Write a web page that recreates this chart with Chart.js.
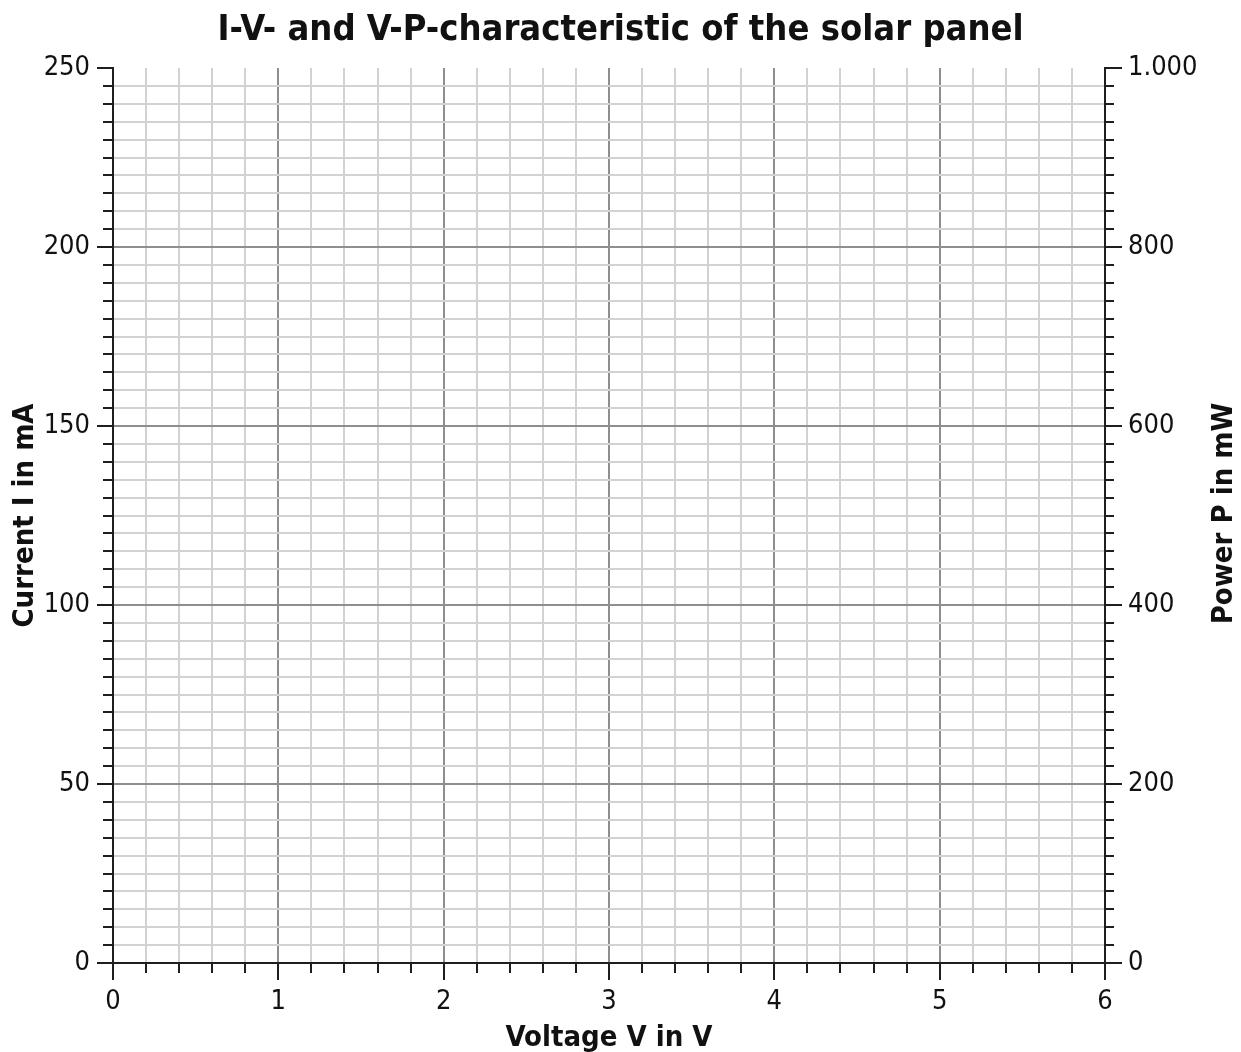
<!DOCTYPE html>
<html>
<head>
<meta charset="utf-8">
<title>I-V- and V-P-characteristic of the solar panel</title>
<script src="https://cdn.jsdelivr.net/npm/chart.js@4.4.1/dist/chart.umd.min.js"></script>
<style>
  html, body { margin: 0; padding: 0; background: #ffffff; overflow: hidden; }
  canvas { display: block; }
</style>
</head>
<body>
<canvas id="c" width="1241" height="1052"></canvas>
<script>
// ---- data (the reference chart is an empty measurement grid) ----
const voltage = [];          // V
const current = [];          // mA
const power = [];            // mW
const voltageTicks = [0, 1, 2, 3, 4, 5, 6];
const currentTicks = [0, 50, 100, 150, 200, 250];
const powerTicks = [0, 200, 400, 600, 800, 1000];
const powerTickLabels = ['0', '200', '400', '600', '800', '1.000'];
const voltageMinorStep = 0.2;
const currentMinorStep = 5;
const powerMinorStep = 20;

const FONT = "'DejaVu Sans Condensed', 'DejaVu Sans', sans-serif";
const MAJOR_GRID = '#8e8e8e';
const MINOR_GRID = '#d2d2d2';
const AXIS = '#1e1e1e';
const TEXT = '#111111';

const near = (a, b) => Math.abs(a - b) < 1e-6;
const isMajor = (v, list) => list.some(m => near(m, v));

const ivPoints = voltage.map((v, i) => ({x: v, y: current[i]}));
const vpPoints = voltage.map((v, i) => ({x: v, y: power[i]}));

const tickMarks = {
  id: 'tickMarks',
  afterDraw(chart) {
    const {ctx, chartArea: a} = chart;
    const {x, y, y2} = chart.scales;
    ctx.save();
    ctx.strokeStyle = AXIS;
    ctx.lineWidth = 2;
    ctx.beginPath();
    x.ticks.forEach(t => {
      const p = Math.round(x.getPixelForValue(t.value));
      const len = isMajor(t.value, voltageTicks) ? 17 : 10;
      ctx.moveTo(p, a.bottom); ctx.lineTo(p, a.bottom + len);
    });
    y.ticks.forEach(t => {
      const p = Math.round(y.getPixelForValue(t.value));
      const len = isMajor(t.value, currentTicks) ? 16 : 10;
      ctx.moveTo(a.left - len, p); ctx.lineTo(a.left, p);
    });
    y2.ticks.forEach(t => {
      const p = Math.round(y2.getPixelForValue(t.value));
      const len = isMajor(t.value, powerTicks) ? 17 : 9;
      ctx.moveTo(a.right, p); ctx.lineTo(a.right + len, p);
    });
    ctx.stroke();
    // right axis title (reads bottom-to-top like the left one)
    ctx.fillStyle = TEXT;
    ctx.font = "bold 29px " + FONT;
    ctx.textAlign = 'center';
    ctx.textBaseline = 'middle';
    ctx.translate(1224.5, (a.top + a.bottom) / 2 - 2);
    ctx.rotate(-Math.PI / 2);
    ctx.fillText('Power P in mW', 0, 0);
    ctx.restore();
  }
};

new Chart(document.getElementById('c'), {
  type: 'scatter',
  data: {
    datasets: [
      {label: 'I-V', data: ivPoints, yAxisID: 'y', borderColor: '#1f4e9c', backgroundColor: '#1f4e9c', showLine: true},
      {label: 'V-P', data: vpPoints, yAxisID: 'y2', borderColor: '#c0392b', backgroundColor: '#c0392b', showLine: true}
    ]
  },
  options: {
    responsive: false,
    devicePixelRatio: 1,
    animation: false,
    layout: {padding: 0},
    plugins: {
      legend: {display: false},
      tooltip: {enabled: false},
      title: {
        display: true,
        text: 'I-V- and V-P-characteristic of the solar panel',
        color: TEXT,
        font: {family: FONT, size: 36, weight: 'bold', lineHeight: 1.2},
        padding: {top: 8.6, bottom: 16.2}
      }
    },
    scales: {
      x: {
        type: 'linear',
        position: 'bottom',
        min: voltageTicks[0],
        max: voltageTicks[voltageTicks.length - 1],
        afterFit: s => { s.height = 89; },
        border: {display: true, color: AXIS, width: 2},
        grid: {
          drawTicks: false,
          lineWidth: 2,
          color: c => isMajor(c.tick.value, voltageTicks) ? MAJOR_GRID : MINOR_GRID
        },
        ticks: {
          stepSize: voltageMinorStep,
          autoSkip: false,
          maxRotation: 0,
          padding: 23,
          color: TEXT,
          font: {family: FONT, size: 27},
          callback: v => isMajor(v, voltageTicks) ? String(Math.round(v)) : ''
        },
        title: {
          display: true,
          text: 'Voltage V in V',
          color: TEXT,
          font: {family: FONT, size: 29, weight: 'bold', lineHeight: 0.9},
          padding: {top: 0, bottom: 0}
        }
      },
      y: {
        type: 'linear',
        position: 'left',
        min: currentTicks[0],
        max: currentTicks[currentTicks.length - 1],
        afterFit: s => { s.width = 113; },
        border: {display: true, color: AXIS, width: 2},
        grid: {
          drawTicks: false,
          lineWidth: 2,
          color: c => near(c.tick.value, currentTicks[currentTicks.length - 1]) ? 'rgba(0,0,0,0)' :
                      (isMajor(c.tick.value, currentTicks) ? MAJOR_GRID : MINOR_GRID)
        },
        ticks: {
          stepSize: currentMinorStep,
          autoSkip: false,
          padding: 23,
          color: TEXT,
          font: {family: FONT, size: 27},
          callback: v => isMajor(v, currentTicks) ? String(Math.round(v)) : ''
        },
        title: {
          display: true,
          text: 'Current I in mA',
          color: TEXT,
          font: {family: FONT, size: 29, weight: 'bold', lineHeight: 1},
          padding: {top: 11, bottom: 0}
        }
      },
      y2: {
        type: 'linear',
        position: 'right',
        min: powerTicks[0],
        max: powerTicks[powerTicks.length - 1],
        afterFit: s => { s.width = 136; },
        border: {display: true, color: AXIS, width: 2},
        grid: {drawOnChartArea: false, drawTicks: false},
        ticks: {
          stepSize: powerMinorStep,
          autoSkip: false,
          padding: 23,
          color: TEXT,
          font: {family: FONT, size: 27},
          callback: v => {
            const i = powerTicks.findIndex(m => near(m, v));
            return i >= 0 ? powerTickLabels[i] : '';
          }
        }
      }
    }
  },
  plugins: [tickMarks]
});
</script>
</body>
</html>
